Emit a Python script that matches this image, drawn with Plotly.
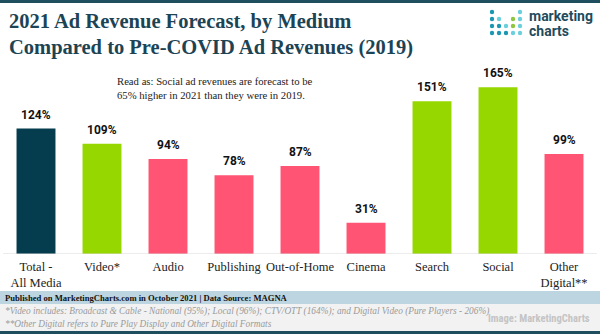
import plotly.graph_objects as go

categories = ["Total -<br>All Media", "Video*", "Audio", "Publishing", "Out-of-Home",
              "Cinema", "Search", "Social", "Other<br>Digital**"]
values = [124, 109, 94, 78, 87, 31, 151, 165, 99]
colors = ["#053d4f", "#97d700", "#ff5473", "#ff5473", "#ff5473",
          "#ff5473", "#97d700", "#97d700", "#ff5473"]
labels = [f"{v}%" for v in values]

W, H = 600, 334
ML, MR, MT, MB = 3, 3, 72, 80
PH = H - MT - MB
PW = W - ML - MR

def px(x):
    return (x - ML) / PW

def py(y):
    return (H - MB - y) / PH

SERIF = "Liberation Serif"
SANS = "Roboto"
DARK = "#1c4455"

fig = go.Figure()
fig.add_trace(go.Bar(x=categories, y=values, marker_color=colors,
                     marker_line_width=0, hoverinfo="skip"))

annotations = []
for c, v, t in zip(categories, values, labels):
    annotations.append(dict(x=c, y=v, xref="x", yref="y", text=f"<b>{t}</b>",
                            showarrow=False, yanchor="bottom", yshift=5,
                            font=dict(family=SANS, size=12, color="#111111")))

annotations += [
    dict(x=px(7), y=py(21), xref="paper", yref="paper", xanchor="left", yanchor="middle",
         text="<b>2021 Ad Revenue Forecast, by Medium</b>", showarrow=False,
         font=dict(family=SERIF, size=20.5, color=DARK)),
    dict(x=px(7), y=py(47), xref="paper", yref="paper", xanchor="left", yanchor="middle",
         text="<b>Compared to Pre-COVID Ad Revenues (2019)</b>", showarrow=False,
         font=dict(family=SERIF, size=20.5, color=DARK)),
    dict(x=px(115), y=py(88), xref="paper", yref="paper", xanchor="left", yanchor="middle",
         text="Read as: Social ad revenues are forecast to be<br>65% higher in 2021 than they were in 2019.",
         align="left", showarrow=False,
         font=dict(family=SERIF, size=10.7, color="#222222")),
    dict(x=px(527), y=py(16), xref="paper", yref="paper", xanchor="left", yanchor="middle",
         text="<b>marketing</b>", showarrow=False,
         font=dict(family=SANS, size=14, color="#1f4b5c")),
    dict(x=px(527), y=py(31), xref="paper", yref="paper", xanchor="left", yanchor="middle",
         text="<b>charts</b>", showarrow=False,
         font=dict(family=SANS, size=14, color="#1f4b5c")),
    dict(x=px(3), y=py(297.5), xref="paper", yref="paper", xanchor="left", yanchor="middle",
         text="<b>Published on MarketingCharts.com in October 2021 | Data Source: MAGNA</b>",
         showarrow=False, font=dict(family=SERIF, size=8.6, color="#111111")),
    dict(x=px(3), y=py(311), xref="paper", yref="paper", xanchor="left", yanchor="middle",
         text="<i>*Video includes: Broadcast &amp; Cable - National (95%); Local (96%); CTV/OTT (164%); and Digital Video (Pure Players - 206%)</i>",
         showarrow=False, font=dict(family=SERIF, size=9.3, color="#9a9a9a")),
    dict(x=px(3), y=py(324), xref="paper", yref="paper", xanchor="left", yanchor="middle",
         text="<i>**Other Digital refers to Pure Play Display and Other Digital Formats</i>",
         showarrow=False, font=dict(family=SERIF, size=9.3, color="#9a9a9a")),
    dict(x=px(592), y=py(318), xref="paper", yref="paper", xanchor="right", yanchor="middle",
         text="<b>Image: MarketingCharts</b>", showarrow=False,
         font=dict(family="Roboto Condensed, Roboto", size=10.5, color="#c4c4c4")),
]

shapes = [
    dict(type="rect", xref="paper", yref="paper", x0=px(0), x1=px(W), y0=py(0), y1=py(3),
         fillcolor="#1f4e5f", line_width=0, layer="below"),
    dict(type="rect", xref="paper", yref="paper", x0=px(0), x1=px(W), y0=py(291), y1=py(304),
         fillcolor="#bdd5e1", line_width=0, layer="below"),
    dict(type="rect", xref="paper", yref="paper", x0=px(0), x1=px(W), y0=py(304), y1=py(331),
         fillcolor="#f2f2f2", line_width=0, layer="below"),
    dict(type="rect", xref="paper", yref="paper", x0=px(0), x1=px(W), y0=py(331), y1=py(334),
         fillcolor="#1f4e5f", line_width=0, layer="below"),
    dict(type="line", xref="paper", yref="y", x0=0, x1=1, y0=0, y1=0,
         line=dict(color="#d9d9d9", width=1)),
]

# logo dots
TEAL, LIGHT, GREEN = "#1b97b3", "#6ccfdc", "#8dc63f"
cols_x = [492, 499, 506, 513, 520]
rows_y = [12, 19, 26, 33]
dots = [
    (0, 0, TEAL), (4, 0, LIGHT),
    (0, 1, TEAL), (1, 1, LIGHT), (3, 1, GREEN), (4, 1, LIGHT),
    (0, 2, TEAL), (1, 2, TEAL), (2, 2, LIGHT), (3, 2, GREEN), (4, 2, LIGHT),
    (0, 3, TEAL), (1, 3, TEAL), (2, 3, TEAL), (3, 3, LIGHT), (4, 3, LIGHT),
]
for ci, ri, col in dots:
    cx, cy = cols_x[ci], rows_y[ri]
    r = 2.2
    shapes.append(dict(type="circle", xref="paper", yref="paper",
                       x0=px(cx - r), x1=px(cx + r), y0=py(cy + r), y1=py(cy - r),
                       fillcolor=col, line_width=0))

fig.update_layout(
    width=W, height=H,
    margin=dict(l=ML, r=MR, t=MT, b=MB, pad=0),
    paper_bgcolor="white", plot_bgcolor="white",
    bargap=0.41, showlegend=False,
    xaxis=dict(showgrid=False, zeroline=False, showline=False, ticks="", tickangle=0,
               ticklabelstandoff=3,
               tickfont=dict(family=SERIF, size=12.5, color="#222222")),
    yaxis=dict(range=[0, 180], visible=False, showgrid=False, zeroline=False),
    annotations=annotations, shapes=shapes,
)

fig.write_html("out.html")
